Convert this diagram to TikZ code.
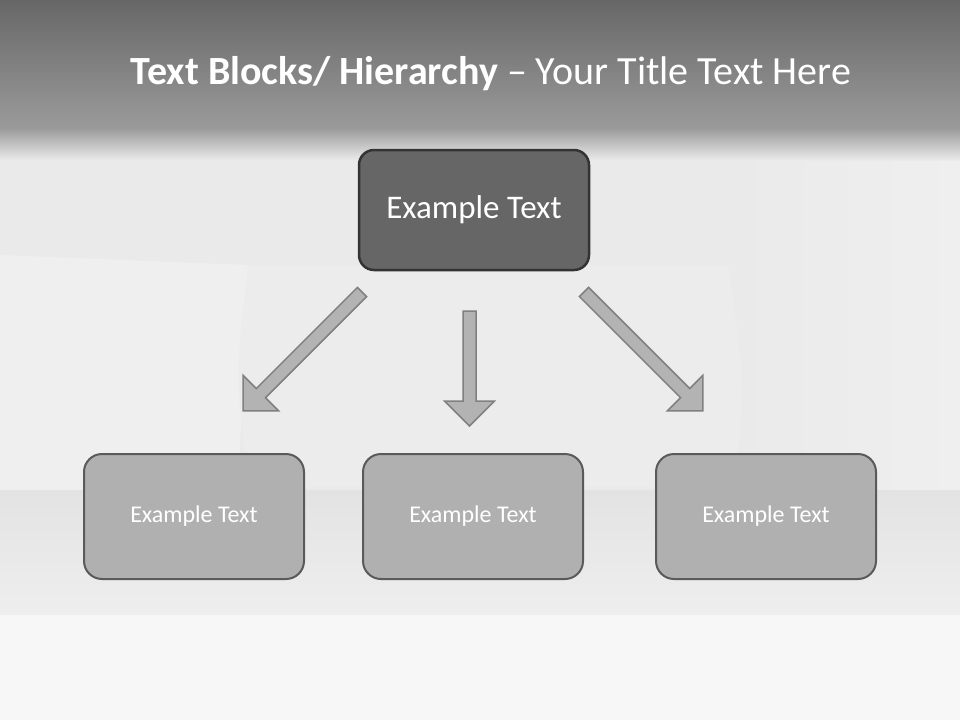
\documentclass[tikz,border=0pt]{standalone}
\usepackage{fontspec}
\setmainfont{Carlito}
\usetikzlibrary{positioning, calc}

\definecolor{bandtop}{HTML}{676767}
\definecolor{bandbot}{HTML}{9A9A9A}
\definecolor{roomgray}{HTML}{EAEAEA}
\definecolor{floorgray}{HTML}{E3E3E3}
\definecolor{paneltone}{HTML}{EFEFEF}
\definecolor{topfill}{HTML}{666666}
\definecolor{topline}{HTML}{333333}
\definecolor{boxfill}{HTML}{B0B0B0}
\definecolor{boxline}{HTML}{5A5A5A}
\definecolor{arrfill}{HTML}{B3B3B3}
\definecolor{arrline}{HTML}{808080}

\tikzset{
    headbox/.style={rectangle, rounded corners=15pt, fill=topfill, draw=topline,
        line width=2.5pt, minimum width=230pt, minimum height=120pt,
        text=white, font=\fontsize{33}{37}\selectfont},
    childbox/.style={rectangle, rounded corners=18pt, fill=boxfill, draw=boxline,
        line width=2pt, minimum width=220pt, minimum height=125pt,
        text=white, font=\fontsize{24}{28}\selectfont},
    blockarr/.style={fill=arrfill, draw=arrline, line width=1.5pt, line join=miter}
}

% block arrow: tail point, direction, length
\newcommand{\blockarrow}[3]{%
    \draw[blockarr, shift={#1}, rotate=#2]
        (0,-6.5) -- ({#3-25},-6.5) -- ({#3-25},-25) -- (#3,0)
        -- ({#3-25},25) -- ({#3-25},6.5) -- (0,6.5) -- cycle;
}

\begin{document}
\begin{tikzpicture}[x=1pt, y=-1pt]

    % Page frame
    \useasboundingbox (0,0) rectangle (960,720);

    % Room backdrop
    \fill[roomgray] (0,128) rectangle (960,615);
    \shade[left color=roomgray, right color=paneltone] (735,150) rectangle (960,495);
    \fill[paneltone] (0,255) -- (248,265) -- (238,495) -- (0,495) -- cycle;
    \fill[paneltone!50!roomgray] (248,265) -- (728,265) .. controls (745,380) .. (735,487)
        -- (250,487) .. controls (235,380) .. (248,265) -- cycle;
    \shade[top color=floorgray, bottom color=floorgray!60!white] (0,490) rectangle (960,615);
    \fill[white!97!black] (0,615) rectangle (960,720);

    % Title band
    \shade[top color=bandtop, bottom color=bandbot] (0,0) rectangle (960,128);
    \shade[top color=bandbot, bottom color=roomgray] (0,128) rectangle (960,160);
    \node[text=white, font=\fontsize{40}{44}\selectfont] (title) at (491,74)
        {\textbf{Text Blocks/ Hierarchy} -- Your Title Text Here};

    % Hierarchy boxes
    \node[headbox] (head) at (474,210) {Example Text};
    \node[childbox] (left) at (194,516.5) {Example Text};
    \node[childbox] (mid) at (473,516.5) {Example Text};
    \node[childbox] (right) at (766,516.5) {Example Text};

    % Arrows
    \blockarrow{(362,292)}{-135}{168}
    \blockarrow{(469.5,311)}{-90}{115}
    \blockarrow{(584,292)}{-45}{168}

\end{tikzpicture}
\end{document}
